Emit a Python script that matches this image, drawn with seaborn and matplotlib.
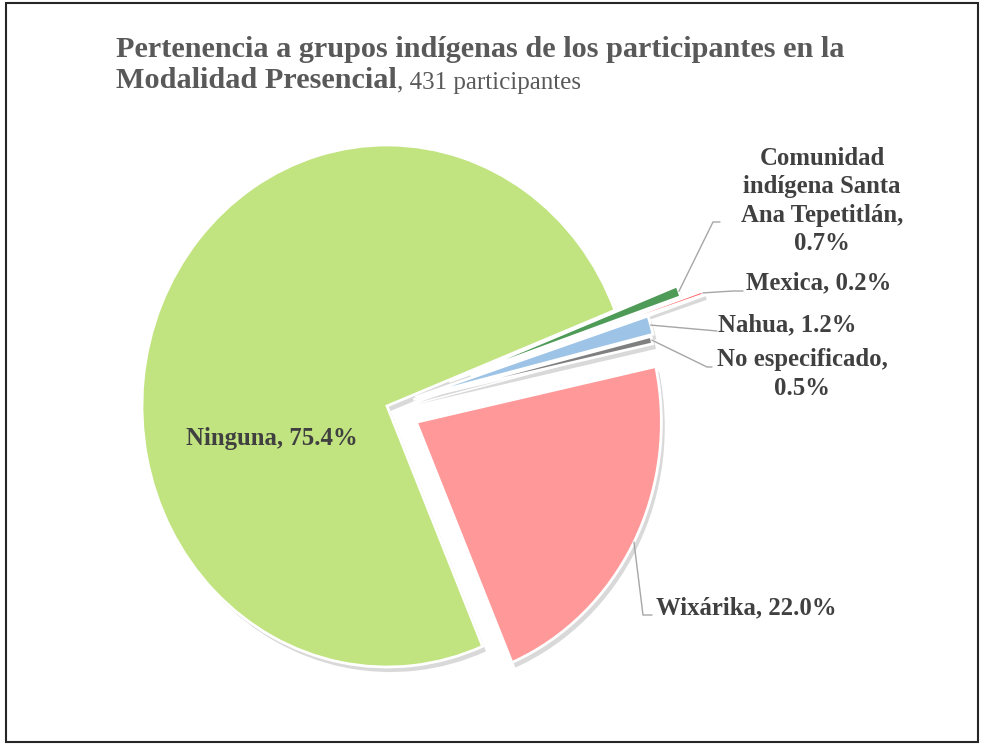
import numpy as np
import matplotlib
matplotlib.use("Agg")
import matplotlib.pyplot as plt
from matplotlib.patches import Rectangle
import seaborn as sns

sns.set_theme(style="white")
plt.rcParams['font.family'] = ['Liberation Serif', 'DejaVu Serif']

# Data (clockwise order, as drawn)
groups = ["Comunidad indígena Santa Ana Tepetitlán", "Mexica", "Nahua",
          "No especificado", "Wixárika", "Ninguna"]
counts = [3, 1, 5, 2, 95, 325]
colors = ["#4E9A57", "#FF5A5A", "#9DC3E6", "#7F7F7F", "#FF9999", "#C1E380"]
explode = [0.27, 0.36, 0.12, 0.11, 0.135, 0.0]

total = sum(counts)
pcts = [c / total * 100 for c in counts]

W, H = 983, 744
fig = plt.figure(figsize=(W / 100, H / 100), dpi=100)
ax = fig.add_axes([0, 0, 1, 1])

# pie centre / radii in pixels (slightly oval in the original)
cx, cy, rx, ry = 387, 406, 245, 261

wedges, _ = ax.pie(counts, explode=explode, colors=colors, startangle=21.5,
                   counterclock=False,
                   wedgeprops=dict(edgecolor="white", linewidth=2),
                   shadow=dict(ox=0.01, oy=-0.014, facecolor="black",
                               edgecolor="none", alpha=0.15))
ax.set_aspect("auto")
ax.set_xlim(-cx / rx, (W - cx) / rx)
ax.set_ylim(-(H - cy) / ry, cy / ry)
ax.axis("off")


def px(x, y):
    # pixel position -> data coords
    return (x - cx) / rx, (cy - y) / ry


def anchor(w):
    t = np.deg2rad((w.theta1 + w.theta2) / 2)
    return w.center[0] + w.r * np.cos(t), w.center[1] + w.r * np.sin(t)


lab_color = "#404040"
line_color = "#A6A6A6"
fs = 17.8

# Ninguna label inside
ax.text(*px(272, 438), f"Ninguna, {pcts[5]:.1f}%", ha="center", va="center",
        fontsize=fs, fontweight="bold", color=lab_color)

# outside labels: (index, elbow points in px, text pos px, ha, text)
outside = [
    (0, [(713, 222), (720, 222)], (822, 201), "center",
     f"Comunidad\nindígena Santa\nAna Tepetitlán,\n{pcts[0]:.1f}%"),
    (1, [(733, 291), (743, 291)], (746, 283), "left", f"Mexica, {pcts[1]:.1f}%"),
    (2, [(717, 331)], (718, 325), "left", f"Nahua, {pcts[2]:.1f}%"),
    (3, [(707, 367), (712, 367)], (802, 374), "center",
     f"No especificado,\n{pcts[3]:.1f}%"),
    (4, [(643, 615), (652, 615)], (656, 608), "left", f"Wixárika, {pcts[4]:.1f}%"),
]
for i, elbows, tpos, ha, txt in outside:
    pts = [anchor(wedges[i])] + [px(*p) for p in elbows]
    xs, ys = zip(*pts)
    ax.plot(xs, ys, color=line_color, lw=1, zorder=1)
    ax.text(*px(*tpos), txt, ha=ha, va="center", multialignment="center",
            fontsize=fs, fontweight="bold", color=lab_color, linespacing=1.3)

# Title
title_color = "#595959"
fig.text(116 / W, 1 - 57 / H, "Pertenencia a grupos indígenas de los participantes en la",
         fontsize=21.8, fontweight="bold", color=title_color, va="baseline")
t2 = fig.text(116 / W, 1 - 88 / H, "Modalidad Presencial",
              fontsize=21.8, fontweight="bold", color=title_color, va="baseline")
ax.annotate(f", {total} participantes", xy=(1, 0), xycoords=t2, va="bottom",
            fontsize=18, color=title_color, annotation_clip=False)

# outer frame
fig.add_artist(Rectangle((6 / W, 2 / H), 972 / W, 739 / H, transform=fig.transFigure,
                         fill=False, lw=1.5, edgecolor="#262626"))

fig.savefig("out.png", dpi=100, facecolor="white")
